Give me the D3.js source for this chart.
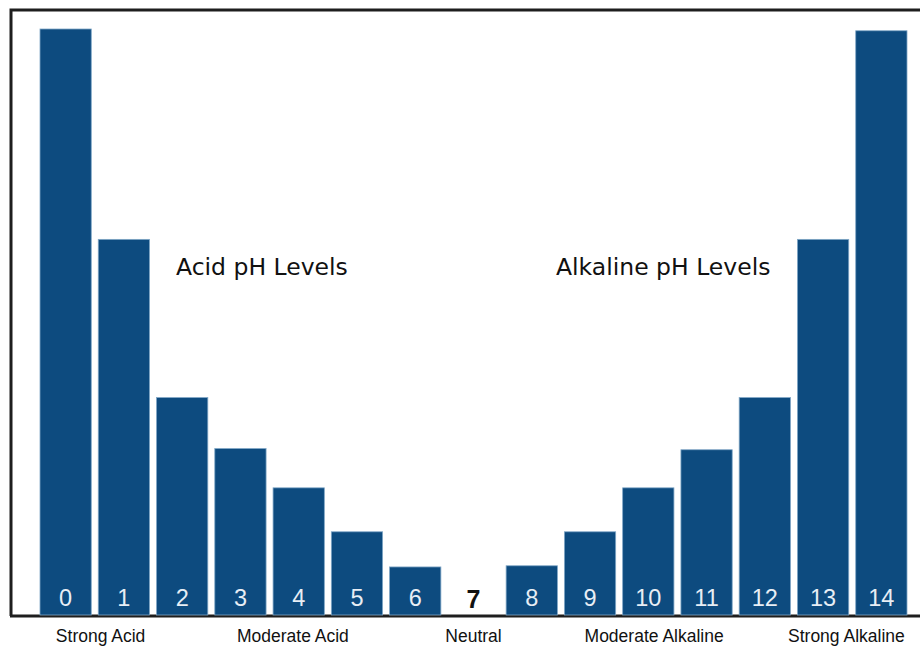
<!DOCTYPE html>
<html>
<head>
<meta charset="utf-8">
<script src="https://cdn.jsdelivr.net/npm/d3@7"></script>
<style>
  body { margin: 0; background: #fff; }
</style>
</head>
<body>
<div id="chart"></div>
<script>
// pH scale values (relative bar height, 0-100)
const phLevels = ["0","1","2","3","4","5","6","7","8","9","10","11","12","13","14"]
const barValues = [100, 64.1, 37.1, 28.4, 21.7, 14.2, 8.2, 0, 8.4, 14.2, 21.7, 28.2, 37.1, 64.1, 99.7]
const groupLabels = ["Strong Acid", "Moderate Acid", "Neutral", "Moderate Alkaline", "Strong Alkaline"]
const groupCenters = [0.6, 3.9, 7, 10.1, 13.4]   // in pH units
const sideTitles = ["Acid pH Levels", "Alkaline pH Levels"]

function drawChart() {
  const dimensions = {
    width: 920,
    height: 646,
  }

  const svg = d3.select("#chart").append("svg")
      .attr("width", dimensions.width)
      .attr("height", dimensions.height)

  const xScale = d3.scaleBand()
    .domain(phLevels)
    .range([40, 907])
    .paddingInner(0.12)
    .paddingOuter(0)

  const yScale = d3.scaleLinear()
    .domain([0, 100])
    .range([615, 29])

  // frame
  svg.append("path")
      .attr("d", "M11,616 V10 H920")
      .attr("fill", "none")
      .attr("stroke", "#1e1e1e")
      .attr("stroke-width", 3)
  svg.append("line")
      .attr("x1", 10).attr("x2", 920)
      .attr("y1", 616).attr("y2", 616)
      .attr("stroke", "#1e1e1e")
      .attr("stroke-width", 3)

  // bars
  svg.append("g").selectAll("rect")
    .data(phLevels.filter((d, i) => barValues[i] > 0))
    .join("rect")
      .attr("x", d => xScale(d))
      .attr("width", xScale.bandwidth())
      .attr("y", d => yScale(barValues[phLevels.indexOf(d)]))
      .attr("height", d => yScale(0) - yScale(barValues[phLevels.indexOf(d)]))
      .attr("fill", "#0d4b7f")
      .attr("stroke", "#7fa6c6")
      .attr("stroke-width", 0.8)

  // pH numbers
  svg.append("g").selectAll("text")
    .data(phLevels)
    .join("text")
      .attr("x", d => xScale(d) + xScale.bandwidth() / 2)
      .attr("y", d => d === "7" ? 608 : 606)
      .attr("text-anchor", "middle")
      .attr("font-family", "Liberation Sans, Arial, sans-serif")
      .attr("font-size", d => d === "7" ? 25 : 23.5)
      .attr("font-weight", d => d === "7" ? 700 : 400)
      .attr("fill", d => d === "7" ? "#111" : "#e8eef5")
      .text(d => d)

  // group labels under axis
  const step = xScale.step()
  svg.append("g").selectAll("text")
    .data(groupLabels)
    .join("text")
      .attr("x", (d, i) => 40 + xScale.bandwidth() / 2 + groupCenters[i] * step)
      .attr("y", 642)
      .attr("text-anchor", "middle")
      .attr("font-family", "Liberation Sans, Arial, sans-serif")
      .attr("font-size", 17.5)
      .attr("fill", "#111")
      .text(d => d)

  // side titles
  svg.append("g").selectAll("text")
    .data(sideTitles)
    .join("text")
      .attr("x", (d, i) => i === 0 ? 176 : 556)
      .attr("y", 275)
      .attr("font-family", "DejaVu Sans, Verdana, sans-serif")
      .attr("font-size", 23.5)
      .attr("fill", "#111")
      .text(d => d)
}

drawChart()
</script>
</body>
</html>
